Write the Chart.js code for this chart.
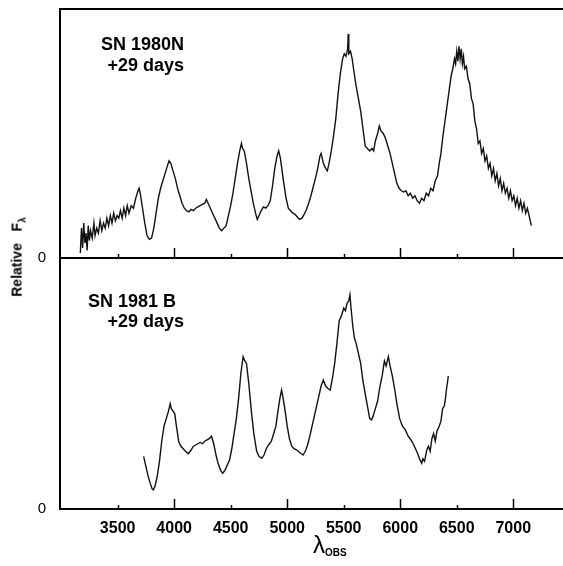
<!DOCTYPE html>
<html>
<head>
<meta charset="utf-8">
<script src="https://cdn.jsdelivr.net/npm/chart.js@4"></script>
<style>
  body { margin: 0; background: #fff; }
  #wrap { position: relative; width: 563px; height: 566px; font-family: "Liberation Sans", Arial, sans-serif; color: #000; }
  canvas { position: absolute; left: 0; }
  .lbl { position: absolute; font-weight: bold; font-size: 18px; line-height: 20px; text-align: right; white-space: nowrap; }
  #ytitle { position: absolute; left: 18px; top: 257px; transform: translate(-50%, -50%) rotate(-90deg); font-weight: bold; font-size: 14px; white-space: nowrap; }
  #xtitle { position: absolute; left: 313px; top: 532px; font-size: 24px; line-height: 26px; white-space: nowrap; }
  #xtitle sub { font-size: 10px; font-weight: bold; vertical-align: -3px; }
</style>
</head>
<body>
<div id="wrap">
  <canvas id="top" width="563" height="280" style="top:0"></canvas>
  <canvas id="bottom" width="563" height="310" style="top:256px"></canvas>
  <div class="lbl" style="left:60px; width:124px; top:34px">SN 1980N</div>
  <div class="lbl" style="left:60px; width:124px; top:55px">+29 days</div>
  <div class="lbl" style="left:60px; width:116px; top:291px">SN 1981 B</div>
  <div class="lbl" style="left:60px; width:124px; top:311px">+29 days</div>
  <div id="ytitle">Relative &nbsp;&nbsp;F<sub style="font-size:10px">λ</sub></div>
  <div id="xtitle">λ<sub>OBS</sub></div>
</div>
<script>
// wavelength ticks along the bottom of each panel
const tickValues = [3500, 4000, 4500, 5000, 5500, 6000, 6500, 7000]

// SN 1980N, +29 days (relative flux, panel height = 100)
const wl1980N = [3170, 3180, 3190, 3200, 3210, 3220, 3230, 3240, 3250, 3260, 3275, 3290, 3300, 3315, 3330, 3345, 3360, 3375, 3390, 3405,
  3420, 3435, 3450, 3465, 3480, 3495, 3510, 3525, 3540, 3555, 3570, 3585, 3600, 3620, 3640, 3660, 3680, 3690, 3700, 3720,
  3740, 3760, 3780, 3800, 3820, 3840, 3860, 3880, 3900, 3920, 3940, 3955, 3970, 3990, 4010, 4030, 4050, 4070, 4090, 4110,
  4130, 4150, 4170, 4190, 4210, 4230, 4250, 4270, 4285, 4300, 4320, 4340, 4360, 4380, 4400, 4420, 4440, 4460, 4480, 4500,
  4520, 4540, 4560, 4580, 4595, 4605, 4620, 4640, 4660, 4680, 4700, 4720, 4735, 4750, 4770, 4790, 4810, 4830, 4850, 4870,
  4890, 4910, 4925, 4940, 4955, 4970, 4990, 5010, 5030, 5050, 5070, 5090, 5110, 5130, 5150, 5170, 5190, 5210, 5230, 5250,
  5270, 5290, 5300, 5320, 5340, 5355, 5370, 5390, 5410, 5430, 5450, 5470, 5490, 5505, 5520, 5535, 5540, 5545, 5560, 5575,
  5590, 5610, 5630, 5650, 5670, 5690, 5710, 5730, 5750, 5765, 5780, 5800, 5815, 5830, 5850, 5870, 5890, 5910, 5930, 5950,
  5970, 5990, 6010, 6030, 6050, 6070, 6090, 6110, 6130, 6150, 6170, 6190, 6210, 6230, 6250, 6270, 6290, 6310, 6330, 6345,
  6360, 6375, 6390, 6405, 6420, 6435, 6450, 6465, 6480, 6490, 6500, 6510, 6520, 6530, 6540, 6550, 6560, 6570, 6585, 6600,
  6615, 6630, 6645, 6660, 6675, 6690, 6705, 6720, 6735, 6750, 6765, 6780, 6795, 6810, 6825, 6840, 6855, 6870, 6885, 6900,
  6915, 6930, 6945, 6960, 6975, 6990, 7005, 7020, 7035, 7050, 7065, 7080, 7095, 7110, 7125, 7140, 7150, 7160]
const flux1980N = [2, 12, 4, 14, 6, 10, 3, 13, 7, 11, 8, 14, 9, 12, 10, 15, 11, 14, 12, 16,
  13, 17, 14, 18, 15, 17, 16, 19, 16, 20, 17, 21, 18, 21, 20, 24, 27, 28, 26, 20,
  14, 9, 7.5, 8, 12, 18, 24, 28, 31, 34, 37, 39, 38, 35, 32, 28, 25, 22, 20, 19,
  18.5, 19.5, 19, 20, 20.5, 21, 21.5, 22, 23.5, 22, 20, 18, 16, 14, 12, 11, 12, 13, 17, 21,
  26, 32, 38, 43, 46, 44, 43, 38, 32, 27, 22, 18, 15.5, 17, 19, 20.5, 20, 21, 23, 29,
  36, 41, 43, 40, 35, 30, 24, 20, 19, 18, 17.5, 16.5, 15.5, 16, 17.5, 19.5, 22, 25, 28.5, 32,
  36, 41, 42, 38, 36, 35, 38, 43, 49, 56, 66, 74, 80, 82, 81, 84, 90, 82, 83, 80,
  75, 69, 64, 59, 52, 45, 44, 43, 44, 43, 47, 50, 53, 51, 50, 48, 45, 42, 38, 34,
  30, 28, 27, 26.5, 27, 25, 26, 24, 25, 23, 22, 24, 23, 26, 25, 28, 27, 31, 33, 38,
  42, 48, 53, 58, 63, 68, 73, 76, 80, 78, 83, 79, 85, 80, 84, 78, 81, 76, 77, 72,
  70, 64, 62, 55, 52, 46, 47, 42, 44, 39, 41, 36, 38, 33, 36, 31, 34, 29, 32, 27,
  30, 26, 28, 24, 27, 23, 25, 21, 24, 20, 23, 19, 22, 18, 20, 17, 15, 13]

// SN 1981B, +29 days
const wl1981B = [3730, 3750, 3770, 3790, 3805, 3815, 3830, 3850, 3870, 3890, 3910, 3930, 3950, 3965, 3975, 3990, 4005, 4020, 4040, 4060,
  4080, 4100, 4125, 4150, 4170, 4190, 4210, 4230, 4250, 4270, 4290, 4310, 4330, 4350, 4370, 4390, 4410, 4430, 4450, 4470,
  4490, 4510, 4530, 4550, 4570, 4590, 4610, 4625, 4640, 4660, 4685, 4705, 4730, 4750, 4775, 4795, 4815, 4835, 4860, 4880,
  4900, 4915, 4935, 4950, 4965, 4985, 5000, 5020, 5040, 5060, 5085, 5110, 5140, 5160, 5180, 5200, 5220, 5240, 5260, 5280,
  5300, 5320, 5340, 5360, 5380, 5400, 5420, 5440, 5460, 5480, 5500, 5515, 5530, 5545, 5555, 5565, 5580, 5595, 5610, 5630,
  5650, 5670, 5690, 5710, 5730, 5745, 5760, 5780, 5800, 5820, 5840, 5860, 5875, 5895, 5910, 5930, 5950, 5970, 5995, 6020,
  6045, 6070, 6095, 6115, 6135, 6155, 6170, 6190, 6200, 6215, 6235, 6250, 6265, 6280, 6295, 6310, 6325, 6345, 6360, 6375,
  6390, 6400, 6410, 6420, 6425]
const flux1981B = [21, 17, 13, 10, 8, 7.6, 9, 13, 19, 27, 33, 36, 39, 42, 40, 39, 38, 33, 27, 25,
  24, 23, 22, 23.5, 25, 25.5, 26, 26.5, 26, 27, 27.5, 28, 29, 26, 21.5, 18, 15.5, 14.2, 15.5, 17.5,
  19.5, 24, 30, 36, 44, 54, 60.7, 59, 58, 50, 38, 30, 23, 21, 20.2, 21.5, 24, 25.5, 27, 30,
  33, 38, 44, 47.4, 44, 38, 33, 28, 25, 24, 23.5, 22.5, 21.5, 23, 25.5, 29, 33, 37, 41, 45,
  49, 51.4, 49, 48, 47.4, 52, 58, 66, 75, 77, 80, 79, 82, 83, 85.3, 80, 73, 68, 66, 62,
  58, 51, 46, 41, 36, 35.5, 37, 40, 43, 48.7, 53, 59, 57, 60.7, 57, 53, 48, 42, 36, 33,
  31.5, 29, 27.5, 26, 24, 22, 20, 18.2, 20, 19, 23.5, 25, 23, 28, 30, 27, 31, 33, 35, 40,
  41, 44, 48, 51, 53]

const xMin = 2990
const xMax = 7440
const fontFamily = "'Liberation Sans', Arial, sans-serif"

// frame lines and inward ticks
const frame = {
  id: "frame",
  afterDraw(chart, args, opts) {
    const { ctx, chartArea: a } = chart
    const x = chart.scales.x
    ctx.save()
    ctx.strokeStyle = "#000"
    ctx.lineWidth = 2
    ctx.beginPath()
    if (opts.top) {
      ctx.moveTo(a.left, a.top)
      ctx.lineTo(a.right, a.top)
    }
    ctx.moveTo(a.left, a.bottom)
    ctx.lineTo(a.right, a.bottom)
    ctx.stroke()
    ctx.lineWidth = 1.5
    tickValues.forEach(v => {
      const px = Math.round(x.getPixelForValue(v)) + 0.5
      const len = v % 1000 === 0 ? 10 : 4
      ctx.beginPath()
      ctx.moveTo(px, a.bottom)
      ctx.lineTo(px, a.bottom - len)
      ctx.stroke()
    })
    ctx.restore()
  }
}

function yScale() {
  return {
    min: 0,
    max: 100,
    afterFit: s => { s.width = 60; s.paddingTop = 0; s.paddingBottom = 0 },
    afterBuildTicks: s => { s.ticks = [{ value: 0 }] },
    grid: { display: false },
    border: { display: true, color: "#000", width: 2 },
    ticks: { padding: 6, color: "#000", font: { family: fontFamily, size: 15 }, callback: () => "0" }
  }
}

function spectrum(wl, flux) {
  return {
    data: wl.map((w, i) => ({ x: w, y: flux[i] })),
    borderColor: "#111",
    borderWidth: 1.4,
    pointRadius: 0,
    tension: 0
  }
}

new Chart(document.getElementById("top"), {
  type: "line",
  data: { datasets: [spectrum(wl1980N, flux1980N)] },
  options: {
    responsive: false,
    animation: false,
    layout: { autoPadding: false, padding: { top: 9, bottom: 22, left: 0, right: 0 } },
    plugins: { legend: { display: false }, tooltip: { enabled: false }, frame: { top: true } },
    scales: {
      x: { type: "linear", min: xMin, max: xMax, display: false },
      y: yScale()
    }
  },
  plugins: [frame]
})

new Chart(document.getElementById("bottom"), {
  type: "line",
  data: { datasets: [spectrum(wl1981B, flux1981B)] },
  options: {
    responsive: false,
    animation: false,
    layout: { autoPadding: false, padding: { top: 2, bottom: 0, left: 0, right: 0 } },
    plugins: { legend: { display: false }, tooltip: { enabled: false }, frame: { top: false } },
    scales: {
      x: {
        type: "linear",
        min: xMin,
        max: xMax,
        afterFit: s => { s.height = 57; s.paddingLeft = 0; s.paddingRight = 0 },
        afterBuildTicks: s => { s.ticks = tickValues.map(v => ({ value: v })) },
        grid: { display: false },
        border: { display: false },
        ticks: {
          padding: 2,
          color: "#000",
          maxRotation: 0,
          font: { family: fontFamily, weight: "bold", size: 16 },
          callback: v => String(v)
        }
      },
      y: yScale()
    }
  },
  plugins: [frame]
})
</script>
</body>
</html>
